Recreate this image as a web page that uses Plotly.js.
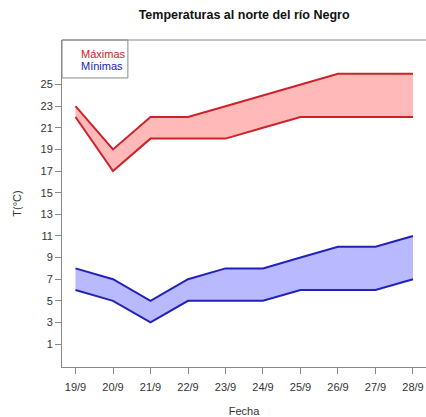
<!DOCTYPE html>
<html><head><meta charset="utf-8">
<script src="https://cdn.plot.ly/plotly-3.0.1.min.js"></script>
<style>body{margin:0;padding:0;background:#fff}#c{width:426px;height:417px}</style>
</head><body><div id="c"></div>
<script>
const fechas = ['19/9','20/9','21/9','22/9','23/9','24/9','25/9','26/9','27/9','28/9'];
const maxAlta = [23,19,22,22,23,24,25,26,26,26];
const maxBaja = [22,17,20,20,20,21,22,22,22,22];
const minAlta = [8,7,5,7,8,8,9,10,10,11];
const minBaja = [6,5,3,5,5,5,6,6,6,7];
const yTicks = [1,3,5,7,9,11,13,15,17,19,21,23,25];

const rojo = '#cc2229', rojoFill = 'rgba(255,185,185,1)';
const azul = '#2222bb', azulFill = 'rgba(185,185,255,1)';

const traces = [
  {x: fechas, y: maxBaja, mode:'lines', line:{color:rojo,width:2}, hoverinfo:'skip'},
  {x: fechas, y: maxAlta, mode:'lines', line:{color:rojo,width:2}, fill:'tonexty', fillcolor:rojoFill, hoverinfo:'skip'},
  {x: fechas, y: minBaja, mode:'lines', line:{color:azul,width:2}, hoverinfo:'skip'},
  {x: fechas, y: minAlta, mode:'lines', line:{color:azul,width:2}, fill:'tonexty', fillcolor:azulFill, hoverinfo:'skip'}
];

const layout = {
  width:426, height:417,
  margin:{l:62, r:0, t:40, b:50},
  paper_bgcolor:'#fff', plot_bgcolor:'#fff',
  showlegend:false,
  font:{family:'Liberation Sans, Arial, sans-serif', size:11, color:'#222'},
  title:{text:'<b>Temperaturas al norte del río Negro</b>', x:0.573, xanchor:'center', y:0.964, yanchor:'middle', font:{size:12.5, color:'#111'}},
  xaxis:{type:'category', range:[-0.36, 9.347], showgrid:false, zeroline:false,
    showline:true, linecolor:'#888', linewidth:1, ticks:'outside', ticklen:6, tickcolor:'#888',
    ticklabelstandoff:4,
    tickfont:{size:11, color:'#333'},
    title:{text:'Fecha', font:{size:11, color:'#333'}, standoff:22}},
  yaxis:{range:[-1.12, 29.12], tickvals:yTicks, showgrid:false, zeroline:false,
    showline:true, linecolor:'#888', linewidth:1, ticks:'outside', ticklen:6, tickcolor:'#888',
    tickfont:{size:11, color:'#333'},
    title:{text:'T(°C)', font:{size:11, color:'#333'}, standoff:16}},
  shapes:[
    {type:'line', xref:'paper', yref:'paper', x0:0, x1:1, y0:1, y1:1, line:{color:'#888', width:1}},
    {type:'rect', xref:'paper', yref:'paper', x0:0, x1:0.181, y0:0.884, y1:1, line:{color:'#888', width:1}, fillcolor:'rgba(0,0,0,0)'}
  ],
  annotations:[
    {xref:'paper', yref:'paper', x:0.047, y:0.958, xanchor:'left', yanchor:'middle', text:'Máximas', showarrow:false, font:{size:11, color:rojo}},
    {xref:'paper', yref:'paper', x:0.047, y:0.919, xanchor:'left', yanchor:'middle', text:'Mínimas', showarrow:false, font:{size:11, color:azul}}
  ]
};
Plotly.newPlot('c', traces, layout, {displayModeBar:false, staticPlot:true});
</script></body></html>
